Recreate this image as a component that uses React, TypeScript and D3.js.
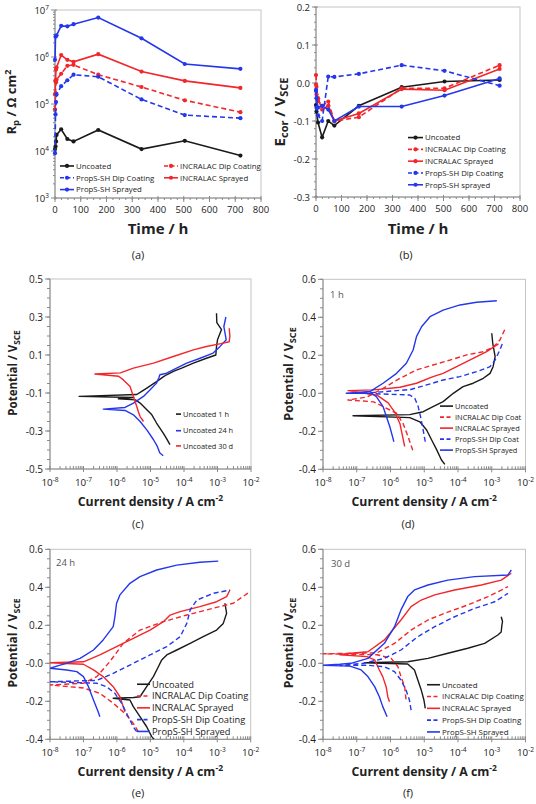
import type { ReactNode } from "react";
import * as d3 from "d3";

const W = 536;
const H = 804;
const FONT = "'Open Sans', Lato, sans-serif";
const INK = "#1a1a1a";
const RED = "#f2262b";
const BLUE = "#2437ec";
const AXIS = "#8a8a8a";
const FRAME = "#c4c4c4";

// (a) polarisation resistance, ohm cm2, vs immersion time (h)
const rpTimes = [0, 2, 4, 6, 24, 48, 72, 168, 336, 504, 720];
const rpUncoated = [1.1e4, 1.25e4, 1.6e4, 2.2e4, 2.9e4, 1.8e4, 1.6e4, 2.8e4, 1.1e4, 1.65e4, 8.0e3];
const rpIncDip = [7.6e4, 1.7e5, 2.9e5, 3.3e5, 4.4e5, 6.5e5, 6.8e5, 4.2e5, 2.3e5, 1.2e5, 6.7e4];
const rpIncSpray = [1.6e5, 3.2e5, 5.4e5, 6.0e5, 1.1e6, 8.7e5, 7.9e5, 1.15e6, 4.9e5, 3.1e5, 2.2e5];
const rpPropDip = [9.0e3, 6.0e4, 1.1e5, 1.6e5, 2.4e5, 3.2e5, 4.2e5, 3.8e5, 1.25e5, 5.8e4, 5.0e4];
const rpPropSpray = [8.7e5, 2.7e6, 2.8e6, 2.9e6, 4.6e6, 4.5e6, 5.0e6, 6.9e6, 2.5e6, 7.1e5, 5.6e5];

// (b) corrosion potential, V vs SCE
const ecTimes = [0, 2, 8, 24, 48, 72, 168, 336, 504, 720];
const ecUncoated = [-0.058, -0.075, -0.104, -0.143, -0.1, -0.112, -0.06, -0.011, 0.004, 0.008];
const ecIncDip = [0.021, -0.01, -0.047, -0.06, -0.049, -0.1, -0.09, -0.014, -0.014, 0.047];
const ecIncSpray = [-0.004, -0.03, -0.04, -0.07, -0.06, -0.1, -0.08, -0.016, -0.019, 0.037];
const ecPropDip = [-0.018, -0.065, -0.085, -0.1, 0.017, 0.016, 0.024, 0.047, 0.032, -0.007];
const ecPropSpray = [-0.021, -0.04, -0.065, -0.06, -0.07, -0.1, -0.062, -0.062, -0.033, 0.012];

// polarisation curves: [log10 current density (A cm-2), potential (V vs SCE)]
type Pt = [number, number];

// (c) uncoated
const cUnc1h: Pt[] = [[-4.42, -0.372], [-4.52, -0.34], [-4.62, -0.311], [-4.72, -0.285], [-4.82, -0.258], [-4.96, -0.215], [-5.11, -0.188], [-5.31, -0.153], [-5.45, -0.136], [-5.96, -0.13], [-5.5, -0.124], [-7.13, -0.118], [-5.41, -0.108], [-5.25, -0.09], [-5.11, -0.074], [-4.82, -0.04], [-4.62, -0.015], [-4.52, -0.004], [-4.3, 0.015], [-4.07, 0.031], [-3.72, 0.057], [-3.33, 0.083], [-3.05, 0.1], [-3.03, 0.144], [-3.0, 0.18], [-2.88, 0.234], [-3.02, 0.27], [-3.03, 0.32]];
const cUnc24h: Pt[] = [[-4.62, -0.43], [-4.72, -0.416], [-4.8, -0.38], [-4.91, -0.346], [-5.11, -0.294], [-5.31, -0.25], [-5.51, -0.215], [-5.76, -0.192], [-6.41, -0.185], [-5.76, -0.176], [-5.51, -0.153], [-5.21, -0.118], [-5.01, -0.083], [-4.82, -0.048], [-4.75, -0.02], [-4.72, -0.004], [-4.52, 0.004], [-4.22, 0.031], [-3.92, 0.057], [-3.52, 0.083], [-3.13, 0.11], [-2.93, 0.144], [-2.74, 0.18], [-2.81, 0.25], [-2.75, 0.3]];
const cUnc30d: Pt[] = [[-5.21, -0.25], [-5.31, -0.224], [-5.36, -0.2], [-5.41, -0.171], [-5.51, -0.118], [-5.61, -0.066], [-5.81, -0.031], [-5.95, -0.012], [-6.66, 0.0], [-5.9, 0.006], [-5.51, 0.031], [-4.91, 0.057], [-4.32, 0.092], [-3.72, 0.127], [-3.33, 0.145], [-2.9, 0.16], [-2.65, 0.17], [-2.63, 0.2], [-2.65, 0.241]];

// (d) 1 h
const dUnc: Pt[] = [[-4.39, -0.374], [-4.49, -0.351], [-4.63, -0.298], [-4.78, -0.246], [-4.93, -0.193], [-5.13, -0.15], [-5.43, -0.128], [-7.11, -0.118], [-5.43, -0.112], [-5.03, -0.097], [-4.74, -0.07], [-4.44, -0.044], [-4.14, 0.0], [-3.85, 0.035], [-3.55, 0.053], [-3.25, 0.079], [-3.05, 0.105], [-2.96, 0.14], [-2.9, 0.193], [-2.97, 0.263], [-3.0, 0.316]];
const dIncDip: Pt[] = [[-5.34, -0.3], [-5.48, -0.228], [-5.63, -0.158], [-5.82, -0.105], [-6.22, -0.07], [-6.5, -0.045], [-7.26, -0.035], [-6.7, -0.02], [-6.22, 0.026], [-5.72, 0.079], [-5.23, 0.123], [-4.74, 0.149], [-4.24, 0.175], [-3.74, 0.202], [-3.25, 0.219], [-2.96, 0.242], [-2.76, 0.28], [-2.61, 0.337]];
const dIncSpray: Pt[] = [[-5.58, -0.28], [-5.65, -0.22], [-5.72, -0.16], [-5.87, -0.1], [-6.07, -0.05], [-6.4, -0.01], [-7.26, 0.014], [-6.5, 0.018], [-5.72, 0.032], [-5.23, 0.053], [-4.74, 0.088], [-4.44, 0.105], [-4.04, 0.14], [-3.55, 0.184], [-3.15, 0.219], [-2.96, 0.242], [-2.8, 0.26]];
const dPropDip: Pt[] = [[-4.97, -0.255], [-5.05, -0.176], [-5.11, -0.123], [-5.18, -0.07], [-5.28, -0.026], [-5.43, -0.009], [-6.8, 0.0], [-5.4, 0.02], [-4.93, 0.044], [-4.44, 0.07], [-3.94, 0.088], [-3.45, 0.114], [-3.05, 0.14], [-2.9, 0.175], [-2.76, 0.228], [-2.66, 0.272]];
const dPropSpray: Pt[] = [[-5.9, -0.255], [-5.94, -0.228], [-6.02, -0.176], [-6.12, -0.123], [-6.22, -0.07], [-6.42, -0.018], [-6.56, 0.0], [-7.31, 0.0], [-6.6, 0.01], [-6.22, 0.053], [-5.82, 0.105], [-5.53, 0.158], [-5.33, 0.228], [-5.23, 0.298], [-5.08, 0.35], [-4.83, 0.403], [-4.44, 0.438], [-3.94, 0.465], [-3.45, 0.479], [-2.85, 0.487]];

// (e) 24 h
const eUnc: Pt[] = [[-4.89, -0.4], [-4.96, -0.386], [-5.11, -0.334], [-5.31, -0.281], [-5.51, -0.228], [-5.61, -0.193], [-6.11, -0.184], [-5.5, -0.18], [-5.31, -0.176], [-5.11, -0.123], [-4.91, -0.07], [-4.76, -0.018], [-4.66, 0.018], [-4.51, 0.044], [-4.21, 0.07], [-3.81, 0.105], [-3.42, 0.14], [-3.02, 0.175], [-2.82, 0.21], [-2.72, 0.263], [-2.77, 0.316]];
const eIncDip: Pt[] = [[-5.36, -0.36], [-5.51, -0.316], [-5.71, -0.272], [-6.11, -0.21], [-6.51, -0.158], [-7.0, -0.13], [-8.0, -0.114], [-7.0, -0.105], [-6.6, -0.07], [-6.21, 0.009], [-5.81, 0.105], [-5.31, 0.175], [-4.61, 0.219], [-3.91, 0.254], [-3.32, 0.281], [-2.52, 0.316], [-2.02, 0.377]];
const eIncSpray: Pt[] = [[-5.76, -0.255], [-5.91, -0.176], [-6.11, -0.123], [-6.41, -0.07], [-6.7, -0.035], [-7.0, -0.005], [-8.0, 0.003], [-7.0, 0.008], [-6.51, 0.044], [-6.01, 0.088], [-5.51, 0.131], [-5.01, 0.175], [-4.61, 0.219], [-4.41, 0.254], [-4.11, 0.272], [-3.52, 0.298], [-3.02, 0.324], [-2.72, 0.351], [-2.62, 0.386]];
const ePropDip: Pt[] = [[-5.41, -0.36], [-5.51, -0.334], [-5.66, -0.281], [-5.86, -0.21], [-6.06, -0.158], [-6.31, -0.123], [-6.6, -0.105], [-8.0, -0.097], [-6.6, -0.09], [-6.11, -0.053], [-5.51, 0.0], [-5.01, 0.044], [-4.51, 0.088], [-4.11, 0.14], [-3.91, 0.21], [-3.81, 0.281], [-3.61, 0.333], [-3.12, 0.368], [-2.62, 0.386]];
const ePropSpray: Pt[] = [[-6.51, -0.281], [-6.56, -0.255], [-6.7, -0.193], [-6.85, -0.123], [-7.0, -0.07], [-7.2, -0.044], [-7.5, -0.035], [-8.0, -0.026], [-7.7, -0.01], [-7.5, 0.0], [-7.1, 0.026], [-6.7, 0.07], [-6.41, 0.123], [-6.11, 0.193], [-6.06, 0.245], [-6.01, 0.316], [-5.91, 0.36], [-5.61, 0.421], [-5.31, 0.456], [-4.81, 0.491], [-4.21, 0.517], [-3.52, 0.532], [-2.97, 0.538]];

// (f) 30 d
const fUnc: Pt[] = [[-4.97, -0.237], [-5.01, -0.193], [-5.09, -0.14], [-5.19, -0.088], [-5.29, -0.035], [-5.49, -0.004], [-6.77, 0.003], [-5.49, 0.008], [-4.89, 0.026], [-4.3, 0.053], [-3.71, 0.079], [-3.21, 0.105], [-2.82, 0.149], [-2.72, 0.165], [-2.7, 0.2], [-2.68, 0.22], [-2.72, 0.245]];
const fIncDip: Pt[] = [[-5.54, -0.19], [-5.58, -0.123], [-5.69, -0.07], [-5.78, -0.018], [-5.98, 0.026], [-6.4, 0.045], [-8.0, 0.05], [-6.4, 0.055], [-5.88, 0.105], [-5.39, 0.175], [-4.89, 0.228], [-4.4, 0.263], [-3.71, 0.307], [-3.11, 0.351], [-2.52, 0.403]];
const fIncSpray: Pt[] = [[-6.03, -0.202], [-6.08, -0.176], [-6.13, -0.123], [-6.23, -0.07], [-6.33, -0.035], [-6.47, 0.018], [-6.7, 0.035], [-7.5, 0.045], [-7.17, 0.053], [-6.67, 0.061], [-6.18, 0.123], [-5.69, 0.228], [-5.39, 0.298], [-5.09, 0.333], [-4.69, 0.36], [-4.1, 0.386], [-3.31, 0.412], [-2.72, 0.438], [-2.42, 0.474]];
const fPropDip: Pt[] = [[-5.39, -0.246], [-5.44, -0.193], [-5.54, -0.14], [-5.69, -0.088], [-5.88, -0.044], [-6.18, -0.018], [-6.7, -0.01], [-7.5, -0.012], [-6.8, 0.0], [-6.18, 0.026], [-5.69, 0.07], [-5.19, 0.14], [-4.69, 0.193], [-4.1, 0.245], [-3.51, 0.289], [-2.91, 0.324], [-2.52, 0.368]];
const fPropSpray: Pt[] = [[-6.1, -0.281], [-6.23, -0.228], [-6.33, -0.176], [-6.47, -0.123], [-6.67, -0.07], [-6.87, -0.035], [-7.2, -0.015], [-8.0, -0.01], [-7.5, -0.005], [-7.17, 0.0], [-6.67, 0.026], [-6.18, 0.105], [-5.88, 0.193], [-5.69, 0.281], [-5.49, 0.351], [-5.29, 0.386], [-4.89, 0.412], [-4.3, 0.438], [-3.51, 0.456], [-2.52, 0.465], [-2.42, 0.491]];

type Box = { l: number; r: number; t: number; b: number };
type Style = { color: string; dashed: boolean };
type LegendRow = Style & { label: string; x: number; y: number };

const UNC: Style = { color: INK, dashed: false };
const INC_DIP: Style = { color: RED, dashed: true };
const INC_SPR: Style = { color: RED, dashed: false };
const PRO_DIP: Style = { color: BLUE, dashed: true };
const PRO_SPR: Style = { color: BLUE, dashed: false };

function pow10(n: number, size: number) {
  return (
    <>
      10<tspan dy={-4} fontSize={size * 0.68}>{n}</tspan>
    </>
  );
}

function Frame({ box }: { box: Box }) {
  return (
    <g>
      <rect x={box.l} y={box.t} width={box.r - box.l} height={box.b - box.t} fill="none" stroke={FRAME} strokeWidth={1} />
      <line x1={box.l} x2={box.l} y1={box.t} y2={box.b} stroke={AXIS} />
      <line x1={box.l} x2={box.r} y1={box.b} y2={box.b} stroke={AXIS} />
    </g>
  );
}

function Legend({ rows, len, size }: { rows: LegendRow[]; len: number; size: number }) {
  return (
    <g fontSize={size} fill="#222">
      {rows.map((r) => (
        <g key={r.label}>
          <line x1={r.x} x2={r.x + len} y1={r.y - size * 0.35} y2={r.y - size * 0.35} stroke={r.color}
            strokeWidth={1.6} strokeDasharray={r.dashed ? "4,2.5" : undefined} />
          <text x={r.x + len + 2} y={r.y}>{r.label}</text>
        </g>
      ))}
    </g>
  );
}

type TimeSeries = Style & { values: number[] };

function TimePanel(props: {
  box: Box; y: any; times: number[]; series: TimeSeries[];
  yMajor: { v: number; label: ReactNode }[]; yMinor: number[];
  yTitle: ReactNode; yTitleX: number; yTitleY: number; yTitleSize: number;
  legend: { rows: LegendRow[]; len: number; size: number };
  tag: string; tagX: number;
}) {
  const { box, y, times } = props;
  const x = d3.scaleLinear().domain([0, 800]).range([box.l, box.r]);
  const line = d3.line<number>().x((_, i) => x(times[i])).y((v) => y(v));
  const xMajor = d3.range(0, 801, 100);
  const xMinor = d3.range(0, 801, 25);
  const cx = (box.l + box.r) / 2;
  return (
    <g>
      <Frame box={box} />
      {xMinor.map((v) => (
        <line key={"xm" + v} x1={x(v)} x2={x(v)} y1={box.b} y2={box.b + 2} stroke={AXIS} />
      ))}
      {xMajor.map((v) => (
        <g key={"x" + v}>
          <line x1={x(v)} x2={x(v)} y1={box.b - 2} y2={box.b + 4} stroke={AXIS} />
          <text x={x(v)} y={box.b + 15} textAnchor="middle" fontSize={9.5} fill="#222">{v}</text>
        </g>
      ))}
      {props.yMinor.map((v, i) => (
        <line key={"ym" + i} x1={box.l - 2} x2={box.l} y1={y(v)} y2={y(v)} stroke={AXIS} />
      ))}
      {props.yMajor.map((m, i) => (
        <g key={"y" + i}>
          <line x1={box.l - 4} x2={box.l + 2} y1={y(m.v)} y2={y(m.v)} stroke={AXIS} />
          <text x={box.l - 6} y={y(m.v) + 3.5} textAnchor="end" fontSize={9.5} fill="#222">{m.label}</text>
        </g>
      ))}
      {props.series.map((s, k) => (
        <g key={k}>
          <path d={line(s.values) || ""} fill="none" stroke={s.color} strokeWidth={1.6}
            strokeDasharray={s.dashed ? "5,3" : undefined} />
          {s.values.map((v, i) => (
            <circle key={i} cx={x(times[i])} cy={y(v)} r={2.1} fill={s.color} />
          ))}
        </g>
      ))}
      <g>
        {props.legend.rows.map((r) => (
          <circle key={r.label} cx={r.x + props.legend.len / 2} cy={r.y - props.legend.size * 0.35} r={2.1} fill={r.color} />
        ))}
      </g>
      <Legend rows={props.legend.rows} len={props.legend.len} size={props.legend.size} />
      <text x={cx} y={234} textAnchor="middle" fontSize={15} fontWeight="bold" fill="#222">Time / h</text>
      <text transform={`translate(${props.yTitleX},${props.yTitleY}) rotate(-90)`} textAnchor="middle"
        fontSize={props.yTitleSize} fontWeight="bold" fill="#222">{props.yTitle}</text>
      <text x={props.tagX} y={259} textAnchor="middle" fontSize={11} fill="#222">{props.tag}</text>
    </g>
  );
}

type Curve = Style & { pts: Pt[] };

function TafelPanel(props: {
  id: string; box: Box; yDomain: [number, number]; curves: Curve[];
  legend: LegendRow[]; legendLen: number; legendSize: number;
  note?: { text: string; x: number; y: number };
  yTitleX: number; yTitleY: number; yTitleSize: number;
  tag: string; tagX: number; tagY: number; xTitleY: number;
}) {
  const { box, yDomain } = props;
  const x = d3.scaleLog().domain([1e-8, 1e-2]).range([box.l, box.r]);
  const y = d3.scaleLinear().domain(yDomain).range([box.b, box.t]);
  const line = d3.line<Pt>().x((p) => x(10 ** p[0])).y((p) => y(p[1]));
  const yMajor = d3.range(yDomain[1], yDomain[0] - 1e-6, -0.2);
  const yMinor = d3.range(yDomain[0], yDomain[1] + 1e-6, 0.05);
  const decades = d3.range(-8, -1);
  const xMinor = decades.slice(0, -1).flatMap((d) => d3.range(2, 10).map((k) => k * 10 ** d));
  const cx = (box.l + box.r) / 2;
  return (
    <g>
      <defs>
        <clipPath id={props.id}>
          <rect x={box.l} y={box.t} width={box.r - box.l} height={box.b - box.t} />
        </clipPath>
      </defs>
      <Frame box={box} />
      {xMinor.map((v, i) => (
        <line key={"xm" + i} x1={x(v)} x2={x(v)} y1={box.b - 3} y2={box.b} stroke={AXIS} />
      ))}
      {decades.map((d) => (
        <g key={"x" + d}>
          <line x1={x(10 ** d)} x2={x(10 ** d)} y1={box.b - 3} y2={box.b + 3} stroke={AXIS} />
          <text x={x(10 ** d)} y={box.b + 17} textAnchor="middle" fontSize={9.8} fill="#222">{pow10(d, 9.8)}</text>
        </g>
      ))}
      {yMinor.map((v, i) => (
        <line key={"ym" + i} x1={box.l - 3} x2={box.l} y1={y(v)} y2={y(v)} stroke={AXIS} />
      ))}
      {yMajor.map((v, i) => (
        <g key={"y" + i}>
          <line x1={box.l - 5} x2={box.l} y1={y(v)} y2={y(v)} stroke={AXIS} />
          <text x={box.l - 7} y={y(v) + 3.5} textAnchor="end" fontSize={10} fill="#222">{v.toFixed(1)}</text>
        </g>
      ))}
      <g clipPath={`url(#${props.id})`}>
        {props.curves.map((c, k) => (
          <path key={k} d={line(c.pts) || ""} fill="none" stroke={c.color} strokeWidth={1.4}
            strokeLinejoin="round" strokeDasharray={c.dashed ? "5,3" : undefined} />
        ))}
      </g>
      {props.note && (
        <text x={props.note.x} y={props.note.y} fontSize={9.5} fill="#555">{props.note.text}</text>
      )}
      <Legend rows={props.legend} len={props.legendLen} size={props.legendSize} />
      <text x={cx} y={props.xTitleY} textAnchor="middle" fontSize={12.3} fontWeight="bold" fill="#222">
        Current density / A cm<tspan dy={-5} fontSize={8.5}>-2</tspan>
      </text>
      <text transform={`translate(${props.yTitleX},${props.yTitleY}) rotate(-90)`} textAnchor="middle"
        fontSize={props.yTitleSize} fontWeight="bold" fill="#222">
        Potential / V<tspan dy={3} fontSize={props.yTitleSize * 0.72}>SCE</tspan>
      </text>
      <text x={props.tagX} y={props.tagY} textAnchor="middle" fontSize={11} fill="#222">{props.tag}</text>
    </g>
  );
}

const rows5 = (labels: string[], x: number, y0: number, dy: number): LegendRow[] => {
  const styles = [UNC, INC_DIP, INC_SPR, PRO_DIP, PRO_SPR];
  return labels.map((label, i) => ({ ...styles[i], label, x, y: y0 + i * dy }));
};

export default function App() {
  const boxA: Box = { l: 55, r: 261, t: 10, b: 198 };
  const boxB: Box = { l: 316, r: 520, t: 7, b: 197 };
  const yA = d3.scaleLog().domain([1e3, 1e7]).range([boxA.b, boxA.t]);
  const yB = d3.scaleLinear().domain([-0.3, 0.2]).range([boxB.b, boxB.t]);
  const logMinor = d3.range(3, 7).flatMap((d) => d3.range(2, 10).map((k) => k * 10 ** d));
  const dFull = ["Uncoated", "INCRALAC Dip Coating", "INCRALAC Sprayed", "PropS-SH Dip Coating", "PropS-SH Sprayed"];

  return (
    <div style={{ position: "absolute", left: 0, top: 0 }}>
      <svg width={W} height={H} style={{ display: "block", background: "#fff" }} fontFamily={FONT}>
        <TimePanel
          box={boxA} y={yA} times={rpTimes}
          series={[
            { ...UNC, values: rpUncoated },
            { ...INC_DIP, values: rpIncDip },
            { ...INC_SPR, values: rpIncSpray },
            { ...PRO_DIP, values: rpPropDip },
            { ...PRO_SPR, values: rpPropSpray },
          ]}
          yMajor={d3.range(3, 8).map((n) => ({ v: 10 ** n, label: pow10(n, 9.5) }))}
          yMinor={logMinor}
          yTitle={<>R<tspan dy={3} fontSize={9.5}>p</tspan><tspan dy={-3}> / Ω cm</tspan><tspan dy={-5} fontSize={9}>2</tspan></>}
          yTitleX={16} yTitleY={102} yTitleSize={13}
          legend={{
            len: 14, size: 7.8,
            rows: [
              { ...UNC, label: "Uncoated", x: 60, y: 168.7 },
              { ...PRO_DIP, label: "PropS-SH Dip Coating", x: 60, y: 180.5 },
              { ...PRO_SPR, label: "PropS-SH Sprayed", x: 60, y: 192.3 },
              { ...INC_DIP, label: "INCRALAC Dip Coating", x: 164, y: 168.7 },
              { ...INC_SPR, label: "INCRALAC Sprayed", x: 164, y: 180.5 },
            ],
          }}
          tag="(a)" tagX={138}
        />
        <TimePanel
          box={boxB} y={yB} times={ecTimes}
          series={[
            { ...UNC, values: ecUncoated },
            { ...INC_DIP, values: ecIncDip },
            { ...INC_SPR, values: ecIncSpray },
            { ...PRO_DIP, values: ecPropDip },
            { ...PRO_SPR, values: ecPropSpray },
          ]}
          yMajor={d3.range(-0.3, 0.2001, 0.1).map((v) => ({ v, label: (Math.abs(v) < 1e-9 ? 0 : v).toFixed(1) }))}
          yMinor={d3.range(-0.3, 0.2001, 0.02)}
          yTitle={<>E<tspan dy={3} fontSize={11}>cor</tspan><tspan dy={-3}> / V</tspan><tspan dy={3} fontSize={11}>SCE</tspan></>}
          yTitleX={285} yTitleY={112} yTitleSize={15}
          legend={{
            len: 15, size: 7.8,
            rows: [
              { ...UNC, label: "Uncoated", x: 408, y: 140.3 },
              { ...INC_DIP, label: "INCRALAC Dip Coating", x: 408, y: 152.1 },
              { ...INC_SPR, label: "INCRALAC Sprayed", x: 408, y: 163.9 },
              { ...PRO_DIP, label: "PropS-SH Dip Coating", x: 408, y: 175.7 },
              { ...PRO_SPR, label: "PropS-SH sprayed", x: 408, y: 187.5 },
            ],
          }}
          tag="(b)" tagX={406}
        />
        <TafelPanel
          id="clipC" box={{ l: 50, r: 251, t: 279, b: 469 }} yDomain={[-0.5, 0.5]}
          curves={[{ ...UNC, pts: cUnc1h }, { ...PRO_SPR, pts: cUnc24h }, { ...INC_SPR, pts: cUnc30d }]}
          legend={[
            { ...UNC, label: "Uncoated 1 h", x: 176, y: 416.7 },
            { color: BLUE, dashed: false, label: "Uncoated 24 h", x: 176, y: 433.3 },
            { color: RED, dashed: false, label: "Uncoated 30 d", x: 176, y: 448.5 },
          ]}
          legendLen={5} legendSize={7.4}
          yTitleX={17} yTitleY={373} yTitleSize={11.5}
          tag="(c)" tagX={138} tagY={528} xTitleY={506}
        />
        <TafelPanel
          id="clipD" box={{ l: 323, r: 525.5, t: 279.3, b: 469.3 }} yDomain={[-0.4, 0.6]}
          curves={[
            { ...UNC, pts: dUnc }, { ...INC_DIP, pts: dIncDip }, { ...INC_SPR, pts: dIncSpray },
            { ...PRO_DIP, pts: dPropDip }, { ...PRO_SPR, pts: dPropSpray },
          ]}
          legend={rows5(["Uncoated", "INCRALAC Dip Coat", "INCRALAC Sprayed", "PropS-SH Dip Coat", "PropS-SH Sprayed"], 440, 408.7, 11)}
          legendLen={13} legendSize={7.4}
          note={{ text: "1 h", x: 330, y: 298 }}
          yTitleX={293} yTitleY={374} yTitleSize={12.6}
          tag="(d)" tagX={408} tagY={528} xTitleY={506}
        />
        <TafelPanel
          id="clipE" box={{ l: 50, r: 250.7, t: 549.3, b: 739.3 }} yDomain={[-0.4, 0.6]}
          curves={[
            { ...UNC, pts: eUnc }, { ...INC_DIP, pts: eIncDip }, { ...INC_SPR, pts: eIncSpray },
            { ...PRO_DIP, pts: ePropDip }, { ...PRO_SPR, pts: ePropSpray },
          ]}
          legend={rows5(dFull, 137, 687.5, 11.8)}
          legendLen={13} legendSize={9.3}
          note={{ text: "24 h", x: 56, y: 566 }}
          yTitleX={17} yTitleY={643} yTitleSize={12}
          tag="(e)" tagX={138} tagY={797} xTitleY={776}
        />
        <TafelPanel
          id="clipF" box={{ l: 323, r: 525.5, t: 549.3, b: 739.3 }} yDomain={[-0.4, 0.6]}
          curves={[
            { ...UNC, pts: fUnc }, { ...INC_DIP, pts: fIncDip }, { ...INC_SPR, pts: fIncSpray },
            { ...PRO_DIP, pts: fPropDip }, { ...PRO_SPR, pts: fPropSpray },
          ]}
          legend={rows5(dFull, 427, 687.5, 11.8)}
          legendLen={13} legendSize={7.9}
          note={{ text: "30 d", x: 331, y: 567 }}
          yTitleX={293} yTitleY={643} yTitleSize={12.2}
          tag="(f)" tagX={408} tagY={797} xTitleY={776}
        />
      </svg>
    </div>
  );
}
